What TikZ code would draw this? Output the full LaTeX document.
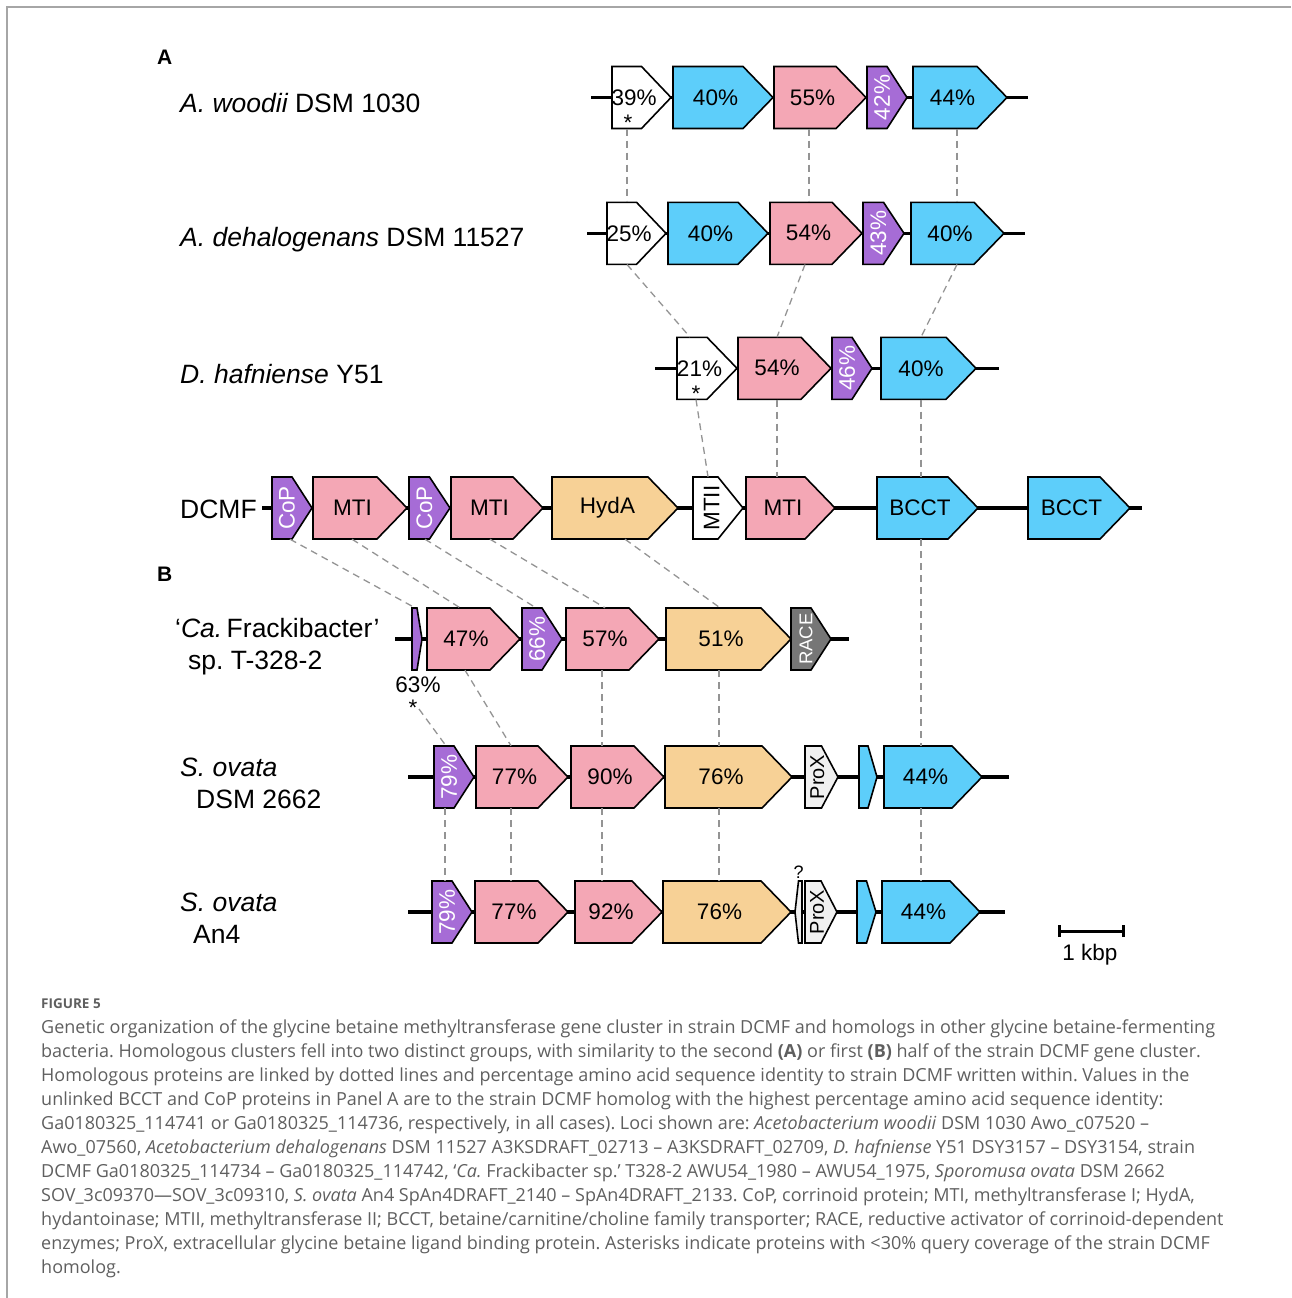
\documentclass[tikz,border=0pt]{standalone}
\usepackage{fontspec}
\usepackage{graphicx}
\setmainfont{Liberation Sans}
\newfontfamily\captionfont{Open Sans}
\usetikzlibrary{calc}
\frenchspacing

\definecolor{bcctblue}{RGB}{93,206,250}
\definecolor{mtipink}{RGB}{244,167,181}
\definecolor{coppurple}{RGB}{166,108,214}
\definecolor{hydatan}{RGB}{247,209,150}
\definecolor{racegray}{RGB}{118,118,118}
\definecolor{proxgray}{RGB}{240,240,240}
\definecolor{captiongray}{RGB}{95,95,95}

\newcommand{\genefont}{\fontsize{22.5}{26}\selectfont}
\newcommand{\strainfont}{\fontsize{26.5}{30}\selectfont}
\newcommand{\vlabel}[1]{\rotatebox{90}{#1}}

%% gene arrow: #1 family, #2 name, #3 left x, #4 tip x, #5 row y, #6 label
\newcommand{\gene}[6]{%
  \pgfmathsetmacro\headlen{min(30,(#4-#3)/2)}%
  \pgfmathsetmacro\labelx{(#3+#4-\headlen/2)/2}%
  \draw[genebox,#1] (#3,#5-31) -- ({#4-\headlen},#5-31) -- (#4,#5)
    -- ({#4-\headlen},#5+31) -- (#3,#5+31) -- cycle;%
  \node[gene label,#1 text] (#2) at (\labelx,#5) {#6};%
}

\begin{document}
\begin{tikzpicture}[
  x=1pt, y=-1pt,
  %% Lines
  backbone/.style={line width=3.5pt, black},
  homolog/.style={black!42, line width=1.3pt, dash pattern=on 7pt off 5pt},
  frame/.style={black!35, line width=1.4pt},
  scalebar/.style={line width=3pt, black},
  %% Gene styles
  genebox/.style={draw=black, line width=1.6pt, line join=miter},
  gene label/.style={inner sep=0pt, minimum height=62pt, font=\genefont},
  bcct/.style={fill=bcctblue},    bcct text/.style={},
  mti/.style={fill=mtipink},      mti text/.style={},
  cop/.style={fill=coppurple},    cop text/.style={text=white},
  hyda/.style={fill=hydatan},     hyda text/.style={},
  blank/.style={fill=white},      blank text/.style={},
  race/.style={fill=racegray},    race text/.style={text=white, font=\fontsize{18.5}{20}\selectfont},
  prox/.style={fill=proxgray},    prox text/.style={font=\fontsize{20}{22}\selectfont},
  %% Text styles
  strain/.style={anchor=base west, inner sep=0pt, font=\strainfont},
  panel/.style={anchor=base west, inner sep=0pt, font=\fontsize{21}{24}\selectfont\bfseries},
  starmark/.style={anchor=base, inner sep=0pt, font=\genefont},
  caption/.style={anchor=base west, inner sep=0pt, text=captiongray,
    font=\captionfont\fontsize{18}{24}\selectfont},
]
\useasboundingbox (0,0) rectangle (1291,1298);
\draw[frame] (7,1298) -- (7,7) -- (1291,7);

%% ── PANEL LABELS AND STRAINS ──────────────────────────────────────────────
\node[panel] (panA) at (157,64) {A};
\node[panel] (panB) at (157,581) {B};
\node[strain] (sAw) at (180,112) {\itshape A. woodii\upshape{} DSM 1030};
\node[strain] (sAd) at (180,246) {\itshape A. dehalogenans\upshape{} DSM 11527};
\node[strain] (sDh) at (180,383) {\itshape D. hafniense\upshape{} Y51};
\node[strain] (sDc) at (180,518) {DCMF};
\node[strain] (sFr) at (175,637) {‘\textit{Ca.}\,Frackibacter’};
\node[strain] (sFr2) at (188,669) {sp. T-328-2};
\node[strain] (sSo) at (180,776) {\itshape S. ovata};
\node[strain] (sSo2) at (196,808) {DSM 2662};
\node[strain] (sAn) at (180,911) {\itshape S. ovata};
\node[strain] (sAn2) at (193,943) {An4};

%% ── BACKBONES ─────────────────────────────────────────────────────────────
\draw[backbone] (591,97.5) -- (1028,97.5);
\draw[backbone] (587,233.3) -- (1025,233.3);
\draw[backbone] (655,368.3) -- (999,368.3);
\draw[backbone] (262,508) -- (1142,508);
\draw[backbone] (395,639) -- (849,639);
\draw[backbone] (408,777) -- (1009,777);
\draw[backbone] (408,912) -- (1005,912);

%% ── A. woodii ─────────────────────────────────────────────────────────────
\gene{blank}{aw1}{612}{671}{97.5}{39\%}
\gene{bcct}{aw2}{673}{773}{97.5}{40\%}
\gene{mti}{aw3}{774}{866}{97.5}{55\%}
\gene{cop}{aw4}{867}{907}{97.5}{\vlabel{42\%}}
\gene{bcct}{aw5}{913}{1007}{97.5}{44\%}
\node[starmark] (aw1star) at (628,130) {*};

%% ── A. dehalogenans ───────────────────────────────────────────────────────
\gene{blank}{ad1}{607}{666}{233.3}{25\%}
\gene{bcct}{ad2}{668}{768}{233.3}{40\%}
\gene{mti}{ad3}{770}{862}{233.3}{54\%}
\gene{cop}{ad4}{863}{904}{233.3}{\vlabel{43\%}}
\gene{bcct}{ad5}{911}{1004}{233.3}{40\%}

%% ── D. hafniense ──────────────────────────────────────────────────────────
\gene{blank}{dh1}{677}{737}{368.3}{21\%}
\gene{mti}{dh2}{738}{831}{368.3}{54\%}
\gene{cop}{dh3}{832}{872}{368.3}{\vlabel{46\%}}
\gene{bcct}{dh4}{881}{976}{368.3}{40\%}
\node[starmark] (dh1star) at (696,401) {*};

%% ── DCMF ──────────────────────────────────────────────────────────────────
\gene{cop}{dc1}{272}{312}{508}{\vlabel{CoP}}
\gene{mti}{dc2}{313}{407}{508}{MTI}
\gene{cop}{dc3}{409}{450}{508}{\vlabel{CoP}}
\gene{mti}{dc4}{451}{543}{508}{MTI}
\gene{hyda}{dc5}{552}{678}{508}{HydA}
\gene{blank}{dc6}{693}{743}{508}{\vlabel{MTII}}
\gene{mti}{dc7}{746}{835}{508}{MTI}
\gene{bcct}{dc8}{877}{978}{508}{BCCT}
\gene{bcct}{dc9}{1028}{1130}{508}{BCCT}

%% ── 'Ca. Frackibacter' ────────────────────────────────────────────────────
\gene{cop}{fr1}{412}{422}{639}{}
\gene{mti}{fr2}{427}{520}{639}{47\%}
\gene{cop}{fr3}{522}{562}{639}{\vlabel{66\%}}
\gene{mti}{fr4}{566}{659}{639}{57\%}
\gene{hyda}{fr5}{666}{791}{639}{51\%}
\gene{race}{fr6}{791}{831}{639}{\vlabel{RACE}}
\node[font=\genefont, inner sep=0pt] (fr1pct) at (418,685) {63\%};
\node[starmark] (fr1star) at (413,715) {*};
\coordinate (fr1end) at (419,709);

%% ── S. ovata DSM 2662 ─────────────────────────────────────────────────────
\gene{cop}{so1}{434}{474}{777}{\vlabel{79\%}}
\gene{mti}{so2}{476}{568}{777}{77\%}
\gene{mti}{so3}{571}{664}{777}{90\%}
\gene{hyda}{so4}{665}{792}{777}{76\%}
\gene{prox}{so5}{805}{838}{777}{\vlabel{ProX}}
\gene{bcct}{so6}{859}{877}{777}{}
\gene{bcct}{so7}{884}{982}{777}{44\%}

%% ── S. ovata An4 ──────────────────────────────────────────────────────────
\gene{cop}{an1}{432}{472}{912}{\vlabel{79\%}}
\gene{mti}{an2}{475}{568}{912}{77\%}
\gene{mti}{an3}{575}{662}{912}{92\%}
\gene{hyda}{an4}{663}{791}{912}{76\%}
\draw[genebox,prox] (802,881) -- (798.5,881) -- (795,912) -- (798.5,943)
  -- (802,943) -- cycle;
\node[anchor=base, inner sep=0pt, font=\fontsize{18}{20}\selectfont] (anq) at (798.5,878) {?};
\gene{prox}{an6}{805}{837}{912}{\vlabel{ProX}}
\gene{bcct}{an7}{857}{876}{912}{}
\gene{bcct}{an8}{882}{980}{912}{44\%}

%% ── HOMOLOGY LINKS ────────────────────────────────────────────────────────
\draw[homolog] (aw1.south -| 627,0) -- (ad1.north -| 627,0);
\draw[homolog] (aw3.south -| 809,0) -- (ad3.north -| 809,0);
\draw[homolog] (aw5.south -| 957,0) -- (ad5.north -| 957,0);

\draw[homolog] (ad1.south -| 627,0) -- (dh1.north -| 690,0);
\draw[homolog] (ad3.south -| 805,0) -- (dh2.north -| 777,0);
\draw[homolog] (ad5.south -| 957,0) -- (dh4.north -| 921,0);

\draw[homolog] (dh1.south -| 696,0) -- (dc6.north -| 708,0);
\draw[homolog] (dh2.south -| 777,0) -- (dc7.north -| 777,0);
\draw[homolog] (dh4.south -| 921,0) -- (dc8.north -| 921,0);

\draw[homolog] (dc1.south -| 290,0) -- (fr1.north -| 415,0);
\draw[homolog] (dc2.south -| 352,0) -- (fr2.north -| 460,0);
\draw[homolog] (dc3.south -| 425,0) -- (fr3.north -| 536,0);
\draw[homolog] (dc4.south -| 490,0) -- (fr4.north -| 605,0);
\draw[homolog] (dc5.south -| 625,0) -- (fr5.north -| 720,0);
\draw[homolog] (dc8.south -| 921,0) -- (so7.north -| 921,0);

\draw[homolog] (fr1end) -- (so1.north -| 446,0);
\draw[homolog] (fr2.south -| 465,0) -- (so2.north -| 511,0);
\draw[homolog] (fr4.south -| 602,0) -- (so3.north -| 602,0);
\draw[homolog] (fr5.south -| 719,0) -- (so4.north -| 719,0);

\draw[homolog] (so1.south -| 445,0) -- (an1.north -| 445,0);
\draw[homolog] (so2.south -| 511,0) -- (an2.north -| 511,0);
\draw[homolog] (so3.south -| 602,0) -- (an3.north -| 602,0);
\draw[homolog] (so4.south -| 719,0) -- (an4.north -| 719,0);
\draw[homolog] (so7.south -| 921,0) -- (an8.north -| 921,0);

%% ── SCALE BAR ─────────────────────────────────────────────────────────────
\coordinate (kbpL) at (1059,931);
\coordinate (kbpR) at (1123,931);
\draw[scalebar] (kbpL) -- (kbpR);
\draw[scalebar] ([yshift=-6pt]kbpL) -- ([yshift=6pt]kbpL);
\draw[scalebar] ([yshift=-6pt]kbpR) -- ([yshift=6pt]kbpR);
\node[font=\genefont, inner sep=0pt] (kbp) at (1090,955) {1 kbp};

%% ── CAPTION ───────────────────────────────────────────────────────────────
\node[caption, font=\captionfont\fontsize{13.5}{16}\selectfont\bfseries] (fig) at (41,1008) {FIGURE 5};
\node[caption] (cap1) at (41,1033) {Genetic organization of the glycine betaine methyltransferase gene cluster in strain DCMF and homologs in other glycine betaine-fermenting};
\node[caption] (cap2) at (41,1057) {bacteria. Homologous clusters fell into two distinct groups, with similarity to the second \textbf{(A)} or first \textbf{(B)} half of the strain DCMF gene cluster.};
\node[caption] (cap3) at (41,1081) {Homologous proteins are linked by dotted lines and percentage amino acid sequence identity to strain DCMF written within. Values in the};
\node[caption] (cap4) at (41,1105) {unlinked BCCT and CoP proteins in Panel A are to the strain DCMF homolog with the highest percentage amino acid sequence identity:};
\node[caption] (cap5) at (41,1129) {Ga0180325\_114741 or Ga0180325\_114736, respectively, in all cases). Loci shown are: \textit{Acetobacterium woodii} DSM 1030 Awo\_c07520 –};
\node[caption] (cap6) at (41,1153) {Awo\_07560, \textit{Acetobacterium dehalogenans} DSM 11527 A3KSDRAFT\_02713 – A3KSDRAFT\_02709, \textit{D. hafniense} Y51 DSY3157 – DSY3154, strain};
\node[caption] (cap7) at (41,1177) {DCMF Ga0180325\_114734 – Ga0180325\_114742, ‘\textit{Ca.} Frackibacter sp.’ T328-2 AWU54\_1980 – AWU54\_1975, \textit{Sporomusa ovata} DSM 2662};
\node[caption] (cap8) at (41,1201) {SOV\_3c09370—SOV\_3c09310, \textit{S. ovata} An4 SpAn4DRAFT\_2140 – SpAn4DRAFT\_2133. CoP, corrinoid protein; MTI, methyltransferase I; HydA,};
\node[caption] (cap9) at (41,1225) {hydantoinase; MTII, methyltransferase II; BCCT, betaine/carnitine/choline family transporter; RACE, reductive activator of corrinoid-dependent};
\node[caption] (cap10) at (41,1249) {enzymes; ProX, extracellular glycine betaine ligand binding protein. Asterisks indicate proteins with <30\% query coverage of the strain DCMF};
\node[caption] (cap11) at (41,1273) {homolog.};

\end{tikzpicture}
\end{document}
